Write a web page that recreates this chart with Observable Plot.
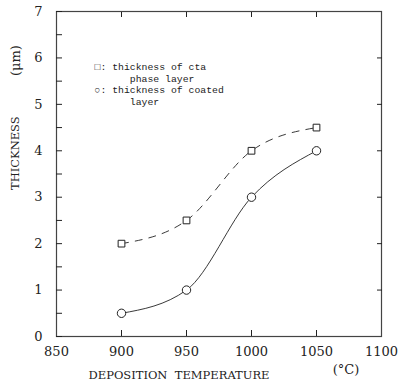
<!DOCTYPE html>
<html>
<head>
<meta charset="utf-8">
<script src="https://cdn.jsdelivr.net/npm/d3@7"></script>
<script src="https://cdn.jsdelivr.net/npm/@observablehq/plot@0.6"></script>
<style>
body { margin: 0; background: #fff; }
svg { font-family: "DejaVu Serif", serif; }
svg text.pre, svg .pre text { white-space: pre; }
</style>
</head>
<body>
<div id="chart"></div>
<script>
const temps = [900, 950, 1000, 1050];
const etaThickness = [2.0, 2.5, 4.0, 4.5];
const coatedThickness = [0.5, 1.0, 3.0, 4.0];
const xTicks = [850, 900, 950, 1000, 1050, 1100];
const yTicks = [0, 1, 2, 3, 4, 5, 6, 7];
const yMinorTicks = d3.range(0, 7.01, 0.5);
const legendText = "\u25A1: thickness of cta\n      phase layer\n\u25CB: thickness of coated\n      layer";
const xTitle = "DEPOSITION  TEMPERATURE";
const xUnit = "(\u00B0C)";
const yTitle = "THICKNESS";
const yUnit = "(\u03BCm)";

const eta = temps.map((t, i) => ({x: t, y: etaThickness[i]}));
const coated = temps.map((t, i) => ({x: t, y: coatedThickness[i]}));

const ink = "#222";
const chart = Plot.plot({
  width: 399,
  height: 385,
  marginTop: 11,
  marginLeft: 56,
  marginRight: 18,
  marginBottom: 49,
  style: {fontFamily: "DejaVu Serif", fontSize: "12px", color: ink, background: "#fff"},
  x: {domain: [850, 1100]},
  y: {domain: [0, 7]},
  marks: [
    Plot.frame({stroke: "#444", strokeWidth: 1.2}),
    Plot.axisX({anchor: "bottom", ticks: xTicks, tickSize: 0, tickPadding: 10, fontSize: 13, label: null, tickFormat: d => String(d)}),
    Plot.axisX({anchor: "bottom", ticks: temps, tickSize: -6, text: null, label: null, stroke: ink}),
    Plot.axisX({anchor: "top", ticks: temps, tickSize: -5, text: null, label: null, stroke: ink}),
    Plot.axisY({anchor: "left", ticks: yTicks, tickSize: 0, tickPadding: 14, fontSize: 13, label: null, tickFormat: d => String(d)}),
    Plot.axisY({anchor: "left", ticks: yMinorTicks, tickSize: -6, text: null, label: null, stroke: ink}),
    Plot.axisY({anchor: "right", ticks: [1, 2, 3, 4, 5, 6], tickSize: -5, text: null, label: null, stroke: ink}),
    Plot.line(eta, {x: "x", y: "y", curve: "monotone-x", stroke: ink, strokeWidth: 0.9, strokeDasharray: "7,7"}),
    Plot.line(coated, {x: "x", y: "y", curve: "monotone-x", stroke: ink, strokeWidth: 0.9}),
    Plot.dot(eta, {x: "x", y: "y", symbol: "square", r: 3.8, stroke: ink, fill: "#fff", strokeWidth: 1}),
    Plot.dot(coated, {x: "x", y: "y", symbol: "circle", r: 4.2, stroke: ink, fill: "#fff", strokeWidth: 1}),
    Plot.text([legendText], {
      frameAnchor: "top-left", dx: 38, dy: 50, lineAnchor: "top", lineHeight: 1.2,
      text: d => d, className: "pre",
      fontFamily: "Liberation Mono", fontSize: 9.8, fill: ink, textAnchor: "start"
    }),
    Plot.text([xTitle], {frameAnchor: "bottom", dx: -40, dy: 42, text: d => d, fontSize: 11.5, fill: ink, className: "pre"}),
    Plot.text([xUnit], {frameAnchor: "bottom", dx: 127, dy: 37, text: d => d, fontSize: 13, fill: ink}),
    Plot.text([yTitle], {frameAnchor: "left", dx: -41, dy: 16, rotate: -90, text: d => d, fontSize: 11.5, fill: ink}),
    Plot.text([yUnit], {frameAnchor: "left", dx: -41, dy: -98, rotate: -90, text: d => d, fontSize: 13, fill: ink})
  ]
});

document.getElementById("chart").appendChild(chart);
</script>
</body>
</html>
